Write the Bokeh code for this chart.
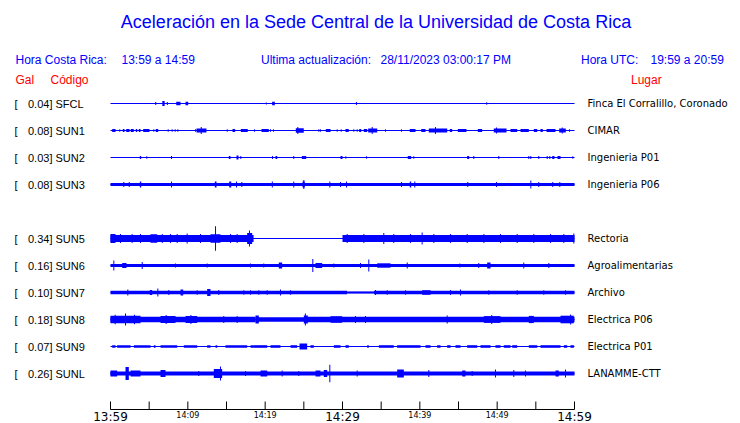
from bokeh.plotting import figure
from bokeh.models import Range1d
from bokeh.core.properties import value
from bokeh.embed import file_html
from bokeh.resources import INLINE

# ---------------- data ----------------
title_text = "Aceleración en la Sede Central de la Universidad de Costa Rica"
local_window = "13:59 a 14:59"
utc_window = "19:59 a 20:59"
updated = "28/11/2023 03:00:17 PM"

codes = ["SFCL", "SUN1", "SUN2", "SUN3", "SUN5", "SUN6", "SUN7", "SUN8", "SUN9", "SUNL"]
peaks_gal = [0.04, 0.08, 0.03, 0.08, 0.34, 0.16, 0.10, 0.18, 0.07, 0.26]
places = ["Finca El Corralillo, Coronado", "CIMAR", "Ingenieria P01", "Ingenieria P06",
          "Rectoria", "Agroalimentarias", "Archivo", "Electrica P06", "Electrica P01",
          "LANAMME-CTT"]
slots = [0, 1, 2, 3, 5, 6, 7, 8, 9, 10]          # SUN4 has no trace

# time axis: minutes after 13:59
tick_minutes = [0, 5, 10, 15, 20, 25, 30, 35, 40, 45, 50, 55, 60]
small_tick_labels = {10: "14:09", 20: "14:19", 40: "14:39", 50: "14:49"}
big_tick_labels = {0: "13:59", 30: "14:29", 60: "14:59"}

# trace envelopes: (start min, end min, half amplitude in display units)
base_SFCL = []
base_SUN1 = []
base_SUN2 = []
base_SUN3 = [(0, 60, 1.5)]
base_SUN5 = [(0, 18.5, 3.5), (30.0, 60, 3.5)]
base_SUN6 = [(0, 60, 1.5)]
base_SUN7 = [(0, 30.6, 1.7), (30.6, 34.05, 1.1), (34.05, 60, 1.7)]
base_SUN8 = [(0, 18.75, 2.8), (18.75, 25.4, 2.2), (25.4, 60, 2.8)]
base_SUN9 = []
base_SUNL = [(0, 60, 2.0)]

ev_SFCL = [(5.8, 5.9, 1.5), (6.7, 7.0, 2.5), (7.3, 7.4, 1.5), (8.5, 9.05, 1.8),
           (9.7, 10.05, 1.8), (20.1, 20.2, 1.0), (20.9, 21.25, 1.8), (31.75, 31.85, 1.5),
           (48.6, 48.7, 1.2)]
ev_SUN1 = [(0.22, 0.65, 1.5), (1.2, 1.2, 1.2), (1.59, 1.81, 1.5), (2.03, 2.46, 1.5),
           (2.62, 3.01, 1.5), (3.27, 3.45, 1.5), (3.66, 3.88, 1.5), (4.23, 5.04, 1.5),
           (5.6, 5.6, 1.2), (5.86, 6.17, 1.5), (7.46, 7.46, 1.2), (7.97, 7.97, 1.2),
           (8.36, 8.36, 1.2), (8.71, 8.71, 1.2), (10.99, 10.99, 1.2), (11.12, 12.41, 2.0),
           (11.73, 11.73, 3.5), (15.09, 15.09, 1.2), (15.78, 16.12, 1.5), (16.85, 17.75, 1.5),
           (18.62, 18.62, 1.2), (19.53, 20.47, 1.5), (20.69, 20.69, 1.2), (21.08, 21.08, 1.2),
           (23.96, 24.99, 2.2), (24.22, 24.22, 3.5), (26.94, 26.94, 1.2), (27.15, 27.15, 1.2),
           (27.84, 28.45, 1.5), (29.31, 29.31, 1.2), (29.83, 29.83, 1.2), (30.39, 30.81, 1.5),
           (31.46, 31.46, 1.2), (31.9, 31.9, 1.2), (32.16, 32.42, 1.5), (32.75, 33.19, 1.5),
           (33.32, 34.49, 2.0), (33.84, 33.84, 3.5), (35.56, 35.56, 1.2), (37.63, 37.63, 1.2),
           (38.7, 39.44, 1.5), (40.18, 40.73, 1.5), (41.16, 43.54, 2.0), (42.02, 42.02, 3.5),
           (43.87, 44.18, 1.5), (44.91, 46.03, 1.5), (47.49, 48.06, 1.5), (49.56, 51.21, 2.0),
           (49.91, 49.91, 3.0), (51.72, 52.59, 1.5), (53.02, 54.09, 1.5), (54.74, 55.18, 1.5),
           (55.6, 55.9, 1.5), (56.38, 57.54, 1.5), (58.02, 58.87, 2.0), (58.41, 58.41, 3.0),
           (59.35, 59.35, 1.2)]
ev_SUN2 = [(3.79, 3.97, 1.5), (4.69, 4.69, 1.2), (7.89, 7.89, 1.5), (15.3, 15.52, 1.5),
           (16.29, 16.55, 2.0), (16.85, 16.85, 1.5), (20.95, 20.95, 1.5), (21.34, 21.56, 1.5),
           (23.7, 23.7, 1.5), (24.74, 25.31, 1.5), (29.74, 30.0, 1.5), (30.43, 30.43, 1.2),
           (33.1, 33.1, 1.2), (38.44, 38.88, 1.5), (39.22, 39.22, 1.2), (46.12, 46.38, 1.5),
           (46.98, 46.98, 1.5), (50.21, 50.21, 1.5), (54.09, 54.09, 1.5), (54.35, 54.35, 1.5),
           (55.38, 55.38, 1.5), (56.47, 56.47, 1.5), (56.81, 56.81, 1.5), (57.12, 57.41, 1.5),
           (57.8, 58.19, 1.5), (59.78, 59.78, 1.2)]
ev_SUN3 = [(1.72, 1.72, 2.5), (2.42, 2.42, 2.5), (3.79, 3.97, 3.0), (7.89, 7.89, 3.0),
           (13.49, 13.71, 3.0), (15.35, 15.61, 3.0), (16.29, 16.29, 3.0), (16.98, 16.98, 2.5),
           (20.86, 20.99, 3.0), (23.7, 23.7, 3.0), (24.83, 25.12, 3.0), (25.0, 25.0, 4.5),
           (28.36, 28.36, 3.0), (29.74, 29.74, 2.5), (30.52, 30.52, 3.0), (37.63, 37.63, 2.5),
           (38.7, 38.88, 3.0), (39.35, 39.35, 3.0), (46.2, 46.2, 2.5), (49.91, 49.91, 2.5),
           (54.35, 54.35, 4.0), (55.38, 55.38, 2.5), (57.19, 57.19, 2.5), (58.1, 58.1, 2.5)]
ev_SUN5 = [(0.0, 0.65, 4.5), (1.29, 1.29, 4.5), (2.8, 2.8, 4.5), (3.88, 3.88, 4.5),
           (5.17, 6.04, 4.3), (6.69, 6.69, 4.5), (7.76, 7.76, 4.5), (8.62, 8.62, 4.5),
           (9.91, 9.91, 5.0), (11.64, 11.64, 4.5), (12.93, 14.22, 4.3), (13.58, 13.58, 12.3),
           (15.52, 15.52, 4.5), (16.38, 16.38, 4.5), (17.67, 18.32, 5.5), (17.97, 17.97, 8.0),
           (30.6, 30.6, 4.5), (32.76, 32.76, 4.5), (35.34, 35.34, 5.5), (36.63, 36.63, 4.5),
           (38.79, 38.79, 4.5), (40.3, 40.3, 6.0), (41.81, 41.81, 4.5), (43.97, 43.97, 4.5),
           (46.12, 46.12, 4.5), (48.28, 48.28, 4.5), (50.43, 50.43, 4.5), (52.59, 52.59, 4.5),
           (54.74, 54.74, 4.5), (56.9, 56.9, 4.5), (58.62, 58.62, 4.5), (59.91, 59.91, 5.0)]
ev_SUN6 = [(0.43, 0.43, 5.0), (1.51, 2.07, 2.5), (4.1, 4.1, 3.5), (8.41, 8.41, 2.0),
           (12.5, 12.5, 2.0), (18.1, 18.1, 2.0), (19.82, 19.82, 2.0), (21.76, 22.2, 3.0),
           (26.16, 26.16, 6.5), (26.51, 27.37, 2.5), (28.88, 28.88, 2.0), (32.33, 32.33, 2.5),
           (33.4, 33.4, 6.0), (34.49, 36.21, 2.2), (38.37, 38.37, 3.0), (45.17, 45.17, 2.0),
           (47.62, 47.62, 2.5), (48.71, 49.14, 3.0), (53.44, 53.44, 3.0), (56.68, 56.68, 2.5)]
ev_SUN7 = [(2.24, 2.24, 3.0), (5.08, 5.39, 2.5), (6.12, 6.12, 4.0), (7.54, 7.54, 2.5),
           (9.05, 9.4, 3.0), (11.21, 11.21, 2.2), (12.5, 12.93, 3.5), (14.0, 14.0, 2.5),
           (17.24, 17.24, 2.2), (18.1, 18.1, 2.2), (19.18, 19.18, 2.2), (20.26, 20.26, 2.2),
           (21.98, 21.98, 3.0), (23.28, 23.28, 2.2), (34.27, 34.27, 2.5), (35.78, 35.78, 2.2),
           (38.15, 38.15, 2.2), (40.3, 41.38, 2.3), (43.97, 43.97, 2.5), (45.26, 45.26, 3.0),
           (48.92, 48.92, 2.2), (52.59, 52.59, 2.2), (56.03, 56.03, 2.2), (58.84, 58.84, 2.2)]
ev_SUN8 = [(0.0, 3.88, 3.8), (0.6, 0.6, 4.8), (1.94, 1.94, 6.0), (3.1, 3.1, 4.8),
           (6.47, 8.41, 3.5), (7.2, 7.2, 4.5), (9.7, 11.21, 3.5), (10.4, 10.4, 4.5),
           (14.65, 14.65, 3.5), (16.38, 16.38, 3.5), (18.75, 19.18, 4.0), (25.0, 25.51, 4.0),
           (25.2, 25.2, 6.0), (28.45, 29.96, 3.3), (31.68, 31.68, 3.5), (32.97, 32.97, 3.5),
           (43.54, 43.54, 4.0), (48.27, 50.43, 3.4), (49.3, 49.3, 4.5), (54.09, 54.74, 3.6),
           (58.19, 59.91, 3.8), (59.5, 59.5, 5.0)]
ev_SUN9 = [(0.22, 0.65, 1.3), (0.86, 2.59, 1.3), (3.02, 5.17, 1.3), (5.6, 5.82, 1.3),
           (6.47, 8.62, 1.3), (9.48, 11.21, 1.3), (12.5, 12.93, 1.3), (13.58, 13.8, 1.3),
           (14.87, 17.67, 1.3), (18.1, 20.26, 1.3), (20.69, 21.98, 1.3), (23.28, 24.14, 1.3),
           (24.44, 25.43, 3.0), (25.86, 26.29, 1.3), (28.88, 29.74, 1.3), (30.39, 30.82, 1.3),
           (33.19, 33.4, 1.3), (34.7, 36.63, 1.3), (37.07, 40.09, 1.3), (40.73, 41.38, 1.3),
           (42.24, 42.67, 1.3), (43.54, 43.97, 1.3), (44.61, 45.26, 1.3), (46.12, 47.42, 1.3),
           (47.84, 49.14, 1.3), (49.78, 50.43, 1.3), (50.86, 51.72, 1.3), (51.94, 52.59, 1.3),
           (54.09, 55.18, 1.3), (55.6, 58.19, 1.3), (58.62, 59.05, 1.3), (59.48, 59.91, 1.3)]
ev_SUNL = [(0.0, 0.86, 3.0), (1.94, 2.37, 6.5), (2.59, 3.88, 3.0), (6.47, 7.11, 3.5),
           (11.42, 11.42, 2.5), (13.36, 14.44, 4.5), (14.22, 14.22, 7.0), (17.46, 17.46, 2.5),
           (19.4, 20.26, 3.0), (22.2, 22.2, 3.0), (24.35, 24.35, 2.5), (26.51, 27.15, 3.0),
           (27.58, 28.02, 3.5), (28.36, 28.36, 8.7), (31.9, 31.9, 3.0), (37.07, 37.93, 4.0),
           (41.16, 41.16, 3.5), (45.48, 45.9, 3.0), (46.77, 46.77, 2.5), (49.78, 49.78, 4.0),
           (52.15, 52.15, 3.5), (53.66, 53.66, 3.0), (57.54, 57.97, 3.0), (58.84, 58.84, 4.0)]

bases = [base_SFCL, base_SUN1, base_SUN2, base_SUN3, base_SUN5, base_SUN6, base_SUN7,
         base_SUN8, base_SUN9, base_SUNL]
events = [ev_SFCL, ev_SUN1, ev_SUN2, ev_SUN3, ev_SUN5, ev_SUN6, ev_SUN7, ev_SUN8,
          ev_SUN9, ev_SUNL]

# ---------------- layout ----------------
W, H = 740, 423
PX_PER_MIN = 464 / 60.0        # 60 minutes across 464 px
ROW_PX = 27.0                  # trace spacing in px
AMP_PER_ROW = 27.0             # display units per trace spacing
T0_PX, ROW0_PX = 110, 103      # canvas position of t=0 and of the first trace
BASE_SHIFT = 0.42              # alphabetic baseline correction (x font size)

def px2t(px):   # horizontal canvas px -> minutes
    return (px - T0_PX) / PX_PER_MIN

def py2r(py):   # vertical canvas px -> row units
    return (py - ROW0_PX) / ROW_PX

def base_y(py, size):   # text baseline placed at canvas px `py`
    return py2r(py - BASE_SHIFT * size)

p = figure(width=W, height=H, output_backend="svg", toolbar_location=None,
           x_range=Range1d(px2t(0), px2t(W)), y_range=Range1d(py2r(H), py2r(0)),
           x_axis_type=None, y_axis_type=None,
           min_border_left=0, min_border_right=0, min_border_top=0,
           min_border_bottom=0)
p.outline_line_color = None
p.grid.visible = False
p.background_fill_color = "white"
p.border_fill_color = "white"

BLUE = "#0000ff"

# center lines
p.segment(x0=[0] * len(slots), x1=[60] * len(slots), y0=slots, y1=slots,
          line_color=BLUE, line_width=1.1)

# envelope quads
L, R, T, B = [], [], [], []
MIN_W = 1.0 / PX_PER_MIN
for slot, base, evs in zip(slots, bases, events):
    for (t0, t1, a) in list(base) + list(evs):
        if t1 - t0 < MIN_W:
            c = (t0 + t1) / 2.0
            t0, t1 = c - MIN_W / 2, c + MIN_W / 2
        L.append(t0); R.append(t1)
        T.append(slot - a / AMP_PER_ROW); B.append(slot + a / AMP_PER_ROW)
p.quad(left=L, right=R, top=T, bottom=B, fill_color=BLUE, line_color=None)

# texts
SANS = value("Liberation Sans")
DEJ = value("DejaVu Sans")
p.text(x=[px2t(375.5)], y=[base_y(29, 18)], text=[title_text], text_font=SANS,
       text_font_size="18px", text_color=BLUE, text_align="center",
       text_baseline="alphabetic")
p.text(x=[px2t(15), px2t(121), px2t(260.5), px2t(380), px2t(580.5), px2t(650)],
       y=[base_y(65, 12)] * 6,
       text=["Hora Costa Rica:", local_window, "Ultima actualización:", updated,
             "Hora UTC:", utc_window],
       text_font=SANS, text_font_size="12px", text_color=BLUE, text_align="left",
       text_baseline="alphabetic")
p.text(x=[px2t(15), px2t(50), px2t(630.5)], y=[base_y(84.5, 12)] * 3,
       text=["Gal", "Código", "Lugar"], text_font=SANS, text_font_size="12px",
       text_color="red", text_align="left", text_baseline="alphabetic")

# left station labels
row_px = [ROW0_PX + ROW_PX * s for s in slots]
p.text(x=[px2t(14)] * len(slots), y=[base_y(r + 5.3, 11) for r in row_px],
       text=["["] * len(slots), text_font=SANS, text_font_size="11px",
       text_color="black", text_baseline="alphabetic")
p.text(x=[px2t(27.5)] * len(slots), y=[base_y(r + 5.3, 11) for r in row_px],
       text=[f"{g:.2f}] {c}" for g, c in zip(peaks_gal, codes)], text_font=SANS,
       text_font_size="11px", text_color="black", text_baseline="alphabetic")
# right place labels
p.text(x=[px2t(587)] * len(slots), y=[base_y(r + 4.5, 10) for r in row_px],
       text=places, text_font=DEJ, text_font_size="10px", text_color="black",
       text_baseline="alphabetic")

# time axis: line, ticks pointing up, small and large labels
AXIS_Y = py2r(409)
TICK_TOP = py2r(401)
p.segment(x0=[tick_minutes[0]], x1=[tick_minutes[-1]], y0=[AXIS_Y], y1=[AXIS_Y],
          line_color="black", line_width=1)
p.segment(x0=tick_minutes, x1=tick_minutes, y0=[AXIS_Y] * len(tick_minutes),
          y1=[TICK_TOP] * len(tick_minutes), line_color="black", line_width=1)
p.text(x=list(small_tick_labels.keys()), y=[base_y(418.5, 8)] * len(small_tick_labels),
       text=list(small_tick_labels.values()), text_font=DEJ, text_font_size="8px",
       text_color="black", text_align="center", text_baseline="alphabetic")
p.text(x=list(big_tick_labels.keys()), y=[base_y(421.5, 12)] * len(big_tick_labels),
       text=list(big_tick_labels.values()), text_font=DEJ, text_font_size="12px",
       text_color="black", text_align="center", text_baseline="alphabetic")

open("out.html", "w").write(file_html(p, INLINE))
